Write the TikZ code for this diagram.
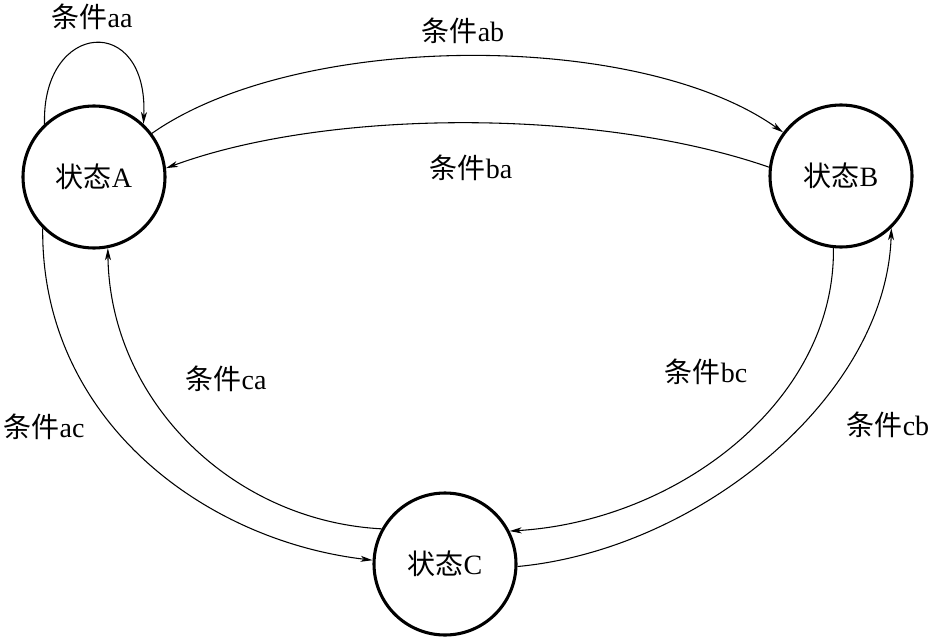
\documentclass[tikz,border=0pt]{standalone}
\usepackage{fontspec}
\setmainfont{Liberation Serif}
\newfontfamily\zh{Noto Sans CJK SC}
\usetikzlibrary{arrows.meta}
\tikzset{
  state/.style={circle,draw,line width=2.3pt,minimum size=106.5pt,inner sep=0pt,font=\fontsize{21}{24}\selectfont},
  trans/.style={line width=0.8pt,-{Stealth[length=9pt,width=4.5pt,inset=2.5pt]}},
  lbl/.style={font=\fontsize{21}{24}\selectfont,inner sep=0pt}
}
\begin{document}
\begin{tikzpicture}[x=0.75pt,y=-0.75pt]
\useasboundingbox (0,0) rectangle (933,639);
\node[state] (A) at (94,177) {{\zh 状态}A};
\node[state] (B) at (841,176) {{\zh 状态}B};
\node[state] (C) at (445,564) {{\zh 状态}C};
% transitions
\draw[trans] (A.133) .. controls +(-3,-103) and +(5,-112) .. (A.47);
\draw[trans] (A.37) .. controls +(147,-103) and +(-143,-102) .. (B.143);
\draw[trans] (B.173) .. controls +(-170,-59) and +(163,-60) .. (A.7);
\draw[trans] (A.225) .. controls +(-2,190) and +(-170,-20) .. (C.177);
\draw[trans] (C.151) .. controls +(-150,-8) and +(2,152) .. (A.281);
\draw[trans] (B.264) .. controls +(2,153) and +(168,-10) .. (C.27);
\draw[trans] (C.-2) .. controls +(182,-17) and +(-5,168) .. (B.-46);
% labels
\node[lbl] (laa) at (92,17) {{\zh 条件}aa};
\node[lbl] (lab) at (463,31) {{\zh 条件}ab};
\node[lbl] (lba) at (471,168) {{\zh 条件}ba};
\node[lbl] (lac) at (44,427) {{\zh 条件}ac};
\node[lbl] (lca) at (226,379) {{\zh 条件}ca};
\node[lbl] (lbc) at (706,372) {{\zh 条件}bc};
\node[lbl] (lcb) at (888,425) {{\zh 条件}cb};
\end{tikzpicture}
\end{document}
